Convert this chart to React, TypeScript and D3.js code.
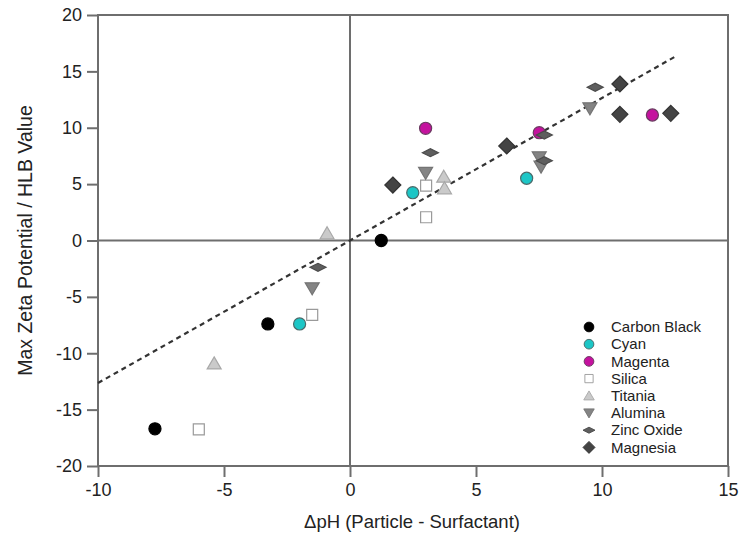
import React, { useEffect, useRef } from 'react';
import * as d3 from 'd3';

const width = 744;
const height = 540;
const margin = { top: 15, right: 15, bottom: 74, left: 98 };

// [x, y] pairs, one array per material
const carbonBlack = [[-7.74, -16.7], [-3.26, -7.4], [1.24, 0.0]];
const cyan = [[-2.0, -7.4], [2.49, 4.24], [7.01, 5.52]];
const magenta = [[3.0, 9.95], [7.51, 9.56], [12.0, 11.13]];
const silica = [[-6.0, -16.75], [-1.5, -6.6], [3.02, 4.86], [3.02, 2.06]];
const titania = [[-5.39, -10.9], [-0.91, 0.64], [3.72, 5.66], [3.75, 4.63]];
const alumina = [[-1.5, -4.24], [3.0, 6.0], [7.51, 7.38], [7.58, 6.55], [9.52, 11.72]];
const zincOxide = [[-1.27, -2.38], [3.19, 7.79], [7.71, 9.36], [7.71, 7.08], [9.73, 13.59]];
const magnesia = [[1.7, 4.92], [6.22, 8.38], [10.71, 13.88], [10.71, 11.19], [12.73, 11.28]];

const xTicks = [-10, -5, 0, 5, 10, 15];
const yTicks = [-20, -15, -10, -5, 0, 5, 10, 15, 20];
const fitLine = [[-10, -12.64], [13.0, 16.43]];

const series = [
  { name: 'Carbon Black', data: carbonBlack, shape: 'circle', fill: '#000000', stroke: '#000000' },
  { name: 'Cyan', data: cyan, shape: 'circle', fill: '#1cc6c6', stroke: '#4a6a6a' },
  { name: 'Magenta', data: magenta, shape: 'circle', fill: '#c4129e', stroke: '#6a3a60' },
  { name: 'Silica', data: silica, shape: 'square', fill: '#ffffff', stroke: '#9a9a9a' },
  { name: 'Titania', data: titania, shape: 'up', fill: '#cacaca', stroke: '#a8a8a8' },
  { name: 'Alumina', data: alumina, shape: 'down', fill: '#848484', stroke: '#747474' },
  { name: 'Zinc Oxide', data: zincOxide, shape: 'flat', fill: '#5e5e5e', stroke: '#4a4a4a' },
  { name: 'Magnesia', data: magnesia, shape: 'diamond', fill: '#444444', stroke: '#333333' },
];

const markerPath = (shape: string) => {
  switch (shape) {
    case 'circle':
      return d3.symbol(d3.symbolCircle, 115)();
    case 'square':
      return 'M-5.5,-5.5L5.5,-5.5L5.5,5.5L-5.5,5.5Z';
    case 'up':
      return 'M0,-6.5L7,5.5L-7,5.5Z';
    case 'down':
      return 'M0,6.5L7,-5.5L-7,-5.5Z';
    case 'flat':
      return 'M-8,0L0,-4L8,0L0,4Z';
    default:
      return 'M0,-8L8,0L0,8L-8,0Z';
  }
};

export default function App() {
  const ref = useRef<SVGSVGElement>(null);

  useEffect(() => {
    const svg = d3.select(ref.current);
    svg.selectAll('*').remove();

    const x = d3.scaleLinear().domain([-10, 15]).range([margin.left, width - margin.right - 1]);
    const y = d3.scaleLinear().domain([-20, 20]).range([height - margin.bottom, margin.top]);
    const axisColor = '#6e6e6e';
    const font = 'Arial, "Liberation Sans", sans-serif';

    // frame
    svg.append('rect')
      .attr('x', x(-10)).attr('y', y(20))
      .attr('width', x(15) - x(-10)).attr('height', y(-20) - y(20))
      .attr('fill', 'none').attr('stroke', axisColor).attr('stroke-width', 2);

    // zero lines
    svg.append('line')
      .attr('x1', x(-10)).attr('x2', x(15)).attr('y1', y(0)).attr('y2', y(0))
      .attr('stroke', axisColor).attr('stroke-width', 2);
    svg.append('line')
      .attr('x1', x(0)).attr('x2', x(0)).attr('y1', y(20)).attr('y2', y(-20))
      .attr('stroke', axisColor).attr('stroke-width', 2);

    const fmt = (d: any) => String(d);
    const xAxis = d3.axisBottom(x).tickValues(xTicks).tickSize(11).tickPadding(6).tickFormat(fmt);
    const gx = svg.append('g').attr('transform', `translate(0,${y(-20)})`).call(xAxis);
    const yAxis = d3.axisLeft(y).tickValues(yTicks).tickSize(11).tickPadding(5).tickFormat(fmt);
    const gy = svg.append('g').attr('transform', `translate(${x(-10)},0)`).call(yAxis);
    [gx, gy].forEach(g => {
      g.select('.domain').remove();
      g.selectAll('line').attr('stroke', axisColor).attr('stroke-width', 2);
      g.selectAll('text').attr('fill', '#222').style('font-family', font).style('font-size', '18px');
    });

    // fit line
    svg.append('path')
      .attr('d', d3.line()(fitLine.map(d => [x(d[0]), y(d[1])]) as [number, number][]))
      .attr('stroke', '#333').attr('stroke-width', 2.2).attr('stroke-dasharray', '5,4')
      .attr('fill', 'none');

    // points
    series.forEach(s => {
      svg.append('g').selectAll('path')
        .data(s.data)
        .join('path')
        .attr('d', markerPath(s.shape))
        .attr('transform', d => `translate(${x(d[0])},${y(d[1])})`)
        .attr('fill', s.fill)
        .attr('stroke', s.stroke)
        .attr('stroke-width', 1.2);
    });

    // legend
    const legend = svg.append('g').attr('transform', 'translate(589,327)');
    series.forEach((s, i) => {
      const row = legend.append('g').attr('transform', `translate(0,${i * 17.2})`);
      row.append('path')
        .attr('d', markerPath(s.shape))
        .attr('transform', s.shape === 'circle' ? 'scale(0.8)' : 'scale(0.75)')
        .attr('fill', s.fill).attr('stroke', s.stroke).attr('stroke-width', 1.2);
      row.append('text')
        .attr('x', 22).attr('dy', '0.35em')
        .style('font-family', font).style('font-size', '15px')
        .attr('fill', '#222')
        .text(s.name);
    });

    // axis titles
    svg.append('text')
      .attr('x', 412).attr('y', 528)
      .attr('text-anchor', 'middle')
      .style('font-family', font).style('font-size', '18.5px')
      .attr('fill', '#222')
      .text('ΔpH (Particle - Surfactant)');
    svg.append('text')
      .attr('transform', `translate(32,${y(0)}) rotate(-90)`)
      .attr('text-anchor', 'middle')
      .style('font-family', font).style('font-size', '19.5px')
      .attr('fill', '#222')
      .text('Max Zeta Potential / HLB Value');
  }, []);

  return (
    <svg
      ref={ref}
      width={width}
      height={height}
      style={{ position: 'absolute', left: 0, top: 0, background: '#fff' }}
    />
  );
}
